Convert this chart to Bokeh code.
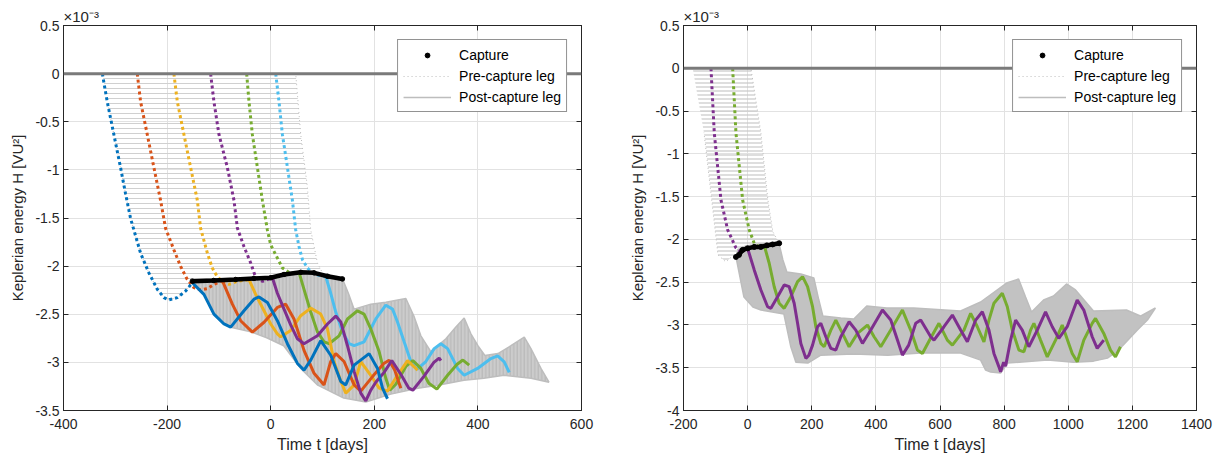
from bokeh.plotting import figure
from bokeh.layouts import row
from bokeh.models import Span, Legend, LegendItem, FixedTicker, LinearAxis, Range1d
from bokeh.embed import file_html
from bokeh.resources import INLINE

FONT = "Liberation Sans"
TXT = "#262626"
C_BLUE, C_ORANGE, C_YELLOW = "#0072BD", "#D95319", "#EDB120"
C_PURPLE, C_GREEN, C_CYAN = "#7E2F8E", "#77AC30", "#4DBEEE"

# ---------------- left panel (t in days, H in 1e-3 VU^2) ----------------
L_xticks = [-400, -200, 0, 200, 400, 600]
L_xlabels = ["-400", "-200", "0", "200", "400", "600"]
L_yticks = [-3.5, -3.0, -2.5, -2.0, -1.5, -1.0, -0.5, 0.0, 0.5]
L_ylabels = ["-3.5", "-3", "-2.5", "-2", "-1.5", "-1", "-0.5", "0", "0.5"]

blue_pre_t = [-325, -315.6, -302.8, -289.9, -280.2, -270.5, -264.1, -251.2, -235.2, -218.9, -206.2, -196.5, -180.3, -164.3, -151.3]
blue_pre_H = [0, -0.291, -0.632, -0.975, -1.248, -1.505, -1.625, -1.865, -2.070, -2.241, -2.327, -2.351, -2.327, -2.259, -2.173]
blue_post_t = [-151.3, -128.9, -109.6, -90.2, -77.3, -51.6, -32.3, -22.6, -6.4, 12.9, 32.3, 51.6, 64.3, 77.3, 96.6, 115.9, 135.3, 144.9, 161, 190, 206.2, 215.9, 225.5]
blue_post_H = [-2.173, -2.293, -2.498, -2.601, -2.634, -2.464, -2.344, -2.320, -2.378, -2.567, -2.806, -3.011, -3.080, -2.977, -2.775, -2.926, -3.199, -3.234, -3.029, -2.909, -3.063, -3.268, -3.378]

orange_pre_t = [-257.6, -251.2, -238.3, -225.5, -212.6, -202.9, -186.9, -173.9, -161, -148.2, -135.3, -122.3, -109.6, -93.3]
orange_pre_H = [0, -0.291, -0.632, -0.975, -1.317, -1.608, -1.831, -2.002, -2.139, -2.224, -2.248, -2.234, -2.190, -2.150]
orange_post_t = [-93.3, -74, -58, -35.4, -12.9, 12.9, 29, 45, 64.3, 83.7, 103, 115.9, 125.6, 141.6, 161, 173.9, 197, 218.3, 228.6, 239.6, 251.2]
orange_post_H = [-2.150, -2.395, -2.567, -2.686, -2.583, -2.429, -2.395, -2.549, -2.875, -3.114, -3.234, -2.991, -2.909, -2.991, -3.234, -3.299, -3.145, -3.011, -2.977, -3.083, -3.268]

yellow_pre_t = [-186.9, -180.3, -167.5, -154.6, -141.6, -135.3, -122.3, -112.7, -104.4, -92.8, -80.6, -64.4, -41.9]
yellow_pre_H = [0, -0.291, -0.632, -0.975, -1.317, -1.608, -1.864, -2.019, -2.098, -2.169, -2.190, -2.159, -2.140]
yellow_post_t = [-41.9, -29, -12.9, 0, 12.9, 19.3, 38.6, 58, 77.3, 96.6, 109.6, 122.3, 135.3, 144.9, 161, 173.9, 193.2, 209.3, 225.5, 244.8, 264.2, 280.2, 283.5]
yellow_post_H = [-2.140, -2.293, -2.464, -2.601, -2.703, -2.734, -2.669, -2.515, -2.436, -2.498, -2.652, -2.991, -3.196, -3.319, -3.237, -2.991, -3.134, -3.268, -3.299, -3.134, -2.981, -3.063, -3.083]

purple_pre_t = [-116, -109.6, -99.9, -83.7, -70.9, -64.3, -51.6, -38.6, -29, -15.5, 3.3]
purple_pre_H = [0, -0.291, -0.632, -0.975, -1.317, -1.605, -1.797, -1.967, -2.118, -2.159, -2.121]
purple_post_t = [3.3, 12.9, 25.7, 38.6, 51.6, 64.3, 90.2, 109.6, 125.6, 135.3, 148.2, 161, 173.9, 183.6, 193.2, 202.9, 218.9, 233.8, 251.2, 266.7, 274.4, 295.7, 315, 325.2, 328.5]
purple_post_H = [-2.121, -2.282, -2.447, -2.611, -2.755, -2.806, -2.724, -2.601, -2.519, -2.580, -2.827, -3.093, -3.319, -3.401, -3.289, -3.207, -3.104, -2.981, -3.124, -3.268, -3.289, -3.145, -3.001, -2.955, -2.981]

green_pre_t = [-46.4, -41.9, -35.4, -25.7, -16, -6.4, 0, 9.7, 22.6, 38.6, 54.7]
green_pre_H = [0, -0.291, -0.632, -0.975, -1.317, -1.625, -1.779, -1.882, -2.019, -2.077, -2.065]
green_post_t = [54.7, 64.3, 77.3, 90.2, 103, 112.7, 132, 148.2, 167.5, 180.3, 193.2, 209.3, 222.2, 230, 241.6, 260.9, 274.4, 289.9, 305.3, 320.8, 341.5, 359.4, 371, 383.2]
green_post_H = [-2.065, -2.241, -2.477, -2.683, -2.786, -2.806, -2.724, -2.549, -2.464, -2.498, -2.652, -2.888, -3.165, -3.289, -3.227, -3.042, -2.981, -3.063, -3.217, -3.278, -3.134, -3.022, -2.976, -3.029]

cyan_pre_t = [9.7, 16, 22.6, 32.3, 41.9, 48.3, 54.7, 61.3, 70.9, 80.6, 96.6, 106.3]
cyan_pre_H = [0, -0.291, -0.632, -0.975, -1.317, -1.625, -1.797, -1.933, -2.019, -2.070, -2.105, -2.108]
cyan_post_t = [106.3, 115.9, 125.6, 138.5, 151.3, 161, 180.3, 202.9, 222.2, 235.2, 244.8, 257.6, 270.5, 282.1, 299.5, 315.6, 328.5, 341.5, 360.8, 373.5, 399.4, 425.1, 438.1, 450.8, 460.5]
cyan_post_H = [-2.108, -2.282, -2.477, -2.683, -2.806, -2.827, -2.786, -2.549, -2.406, -2.447, -2.580, -2.786, -2.991, -3.073, -2.991, -2.857, -2.806, -2.857, -3.063, -3.134, -3.063, -2.960, -2.932, -2.994, -3.104]

L_cap_t = [-151.3, -110.1, -67.6, -32.3, 0, 25.7, 58, 83.7, 109.6, 138.5]
L_cap_H = [-2.156, -2.149, -2.139, -2.128, -2.121, -2.087, -2.064, -2.070, -2.105, -2.133]

# outline of the band of grey post-capture legs
L_post_band_t = [-148.2, -128.9, -109.6, -90.2, -77.3, -38.6, -7.7, 25.1, 58, 90.8, 141.1, 183.6, 231.9, 284.1, 322.7, 373, 411.6, 450.3, 502.4, 537.2,
                 521.7, 502.4, 489.5, 463.8, 438.7, 413.5, 400, 386.5, 373.5, 357.5, 338.2, 309.2, 289.9, 276.4, 260.9, 222.2, 193.2, 161, 150.7, 139.1,
                 109.6, 83.7, 58, 25.7, 0, -32.3, -67.6, -110.1]
L_post_band_H = [-2.159, -2.293, -2.498, -2.601, -2.634, -2.683, -2.744, -2.827, -3.063, -3.237, -3.371, -3.412, -3.330, -3.268, -3.237, -3.186, -3.165, -3.134, -3.165, -3.206,
                 -3.063, -2.857, -2.737, -2.827, -2.909, -2.929, -2.827, -2.703, -2.539, -2.632, -2.755, -2.888, -2.724, -2.518, -2.337, -2.375, -2.395, -2.447, -2.293, -2.139,
                 -2.105, -2.070, -2.064, -2.087, -2.121, -2.128, -2.139, -2.149]
# outline of the band of grey pre-capture legs
L_pre_band_t = [-325, 48.3, 58, 70.9, 77.3, 90.2, 99.9, 109.6, 83.7, 58, 25.7, 0, -15, -40, -80, -110, -135, -151.3, -164.3, -180.3, -196.5, -206.2, -218.9, -235.2, -251.2, -264.1, -270.5, -280.2, -289.9, -302.8, -315.6]
L_pre_band_H = [0, 0, -0.632, -1.18, -1.625, -1.967, -2.070, -2.105, -2.070, -2.064, -2.087, -2.121, -2.159, -2.165, -2.190, -2.20, -2.248, -2.173, -2.259, -2.327, -2.351, -2.327, -2.241, -2.070, -1.865, -1.625, -1.505, -1.248, -0.975, -0.632, -0.291]

# ---------------- right panel ----------------
R_xticks = [-200, 0, 200, 400, 600, 800, 1000, 1200, 1400]
R_xlabels = ["-200", "0", "200", "400", "600", "800", "1000", "1200", "1400"]
R_yticks = [-4.0, -3.5, -3.0, -2.5, -2.0, -1.5, -1.0, -0.5, 0.0, 0.5]
R_ylabels = ["-4", "-3.5", "-3", "-2.5", "-2", "-1.5", "-1", "-0.5", "0", "0.5"]

rpurple_pre_t = [-114.3, -104, -83.2, -62.3, -52, -36.4, -20.9, 0]
rpurple_pre_H = [0, -0.756, -1.538, -1.889, -1.971, -2.100, -2.146, -2.105]
rpurple_post_t = [0, 20.6, 41.4, 62.3, 72.6, 93.5, 114, 129.6, 145.2, 155.8, 166, 181.6, 191, 202.5, 218.1, 228.3, 243.9, 259.5, 275.1, 290.6, 316.5, 337.4, 358.2, 384.1, 420.5, 446.4, 467.3, 482.8, 502.4, 524.3, 539.8, 571, 581.3, 612.4, 638.6, 664.4, 685.3, 711.2, 732, 752.6, 768.2, 783.8, 789, 798.4, 804.6, 820.2, 835.8, 856.6, 877.2, 903.4, 929.2, 950.1, 970.6, 996.8, 1027.9, 1048.5, 1074.7, 1090.3, 1110.8]
rpurple_post_H = [-2.105, -2.357, -2.592, -2.787, -2.806, -2.670, -2.533, -2.553, -2.747, -2.981, -3.216, -3.391, -3.353, -3.236, -3.021, -2.981, -3.138, -3.274, -3.294, -3.138, -2.963, -3.060, -3.216, -3.060, -2.826, -2.943, -3.177, -3.353, -3.236, -2.981, -2.943, -3.138, -3.177, -3.021, -2.884, -3.060, -3.197, -2.943, -2.846, -3.060, -3.333, -3.490, -3.548, -3.435, -3.481, -3.177, -2.943, -3.060, -3.255, -3.060, -2.846, -3.021, -3.157, -3.021, -2.709, -2.826, -3.138, -3.274, -3.177]

rgreen_pre_t = [-46.7, -36.4, -15.6, 5, 20.6, 35.2, 51.7]
rgreen_pre_H = [0, -0.756, -1.538, -1.889, -2.045, -2.088, -2.070]
rgreen_post_t = [51.7, 67.3, 82.9, 98.4, 114, 134.9, 155.8, 171.3, 186.9, 202.5, 212.8, 228.3, 238.6, 259.5, 275.1, 295.9, 316.5, 342.7, 373.8, 394.4, 415.2, 446.4, 482.8, 508.7, 529.6, 545.1, 571, 596.8, 623, 638.6, 674.7, 695.6, 716.4, 737, 752.6, 768.2, 794.3, 809.9, 825.5, 846.1, 861.6, 882.5, 892.8, 913.6, 934.5, 960.4, 981.2, 1012.4, 1028, 1048.5, 1074.7, 1085, 1110.8, 1131.7, 1147.2, 1162.8]
rgreen_post_H = [-2.070, -2.279, -2.553, -2.747, -2.806, -2.670, -2.494, -2.436, -2.553, -2.787, -3.021, -3.216, -3.255, -3.060, -2.943, -3.099, -3.255, -3.099, -3.001, -3.138, -3.255, -3.060, -2.826, -3.060, -3.294, -3.333, -3.153, -2.981, -3.177, -3.236, -3.060, -2.864, -3.021, -3.197, -2.943, -2.747, -2.630, -2.787, -3.060, -3.294, -3.314, -3.060, -2.981, -3.177, -3.373, -3.177, -3.001, -3.333, -3.431, -3.177, -2.981, -2.923, -3.099, -3.294, -3.373, -3.255]

R_cap_t = [-36.4, -27.1, -15.6, 0, 20.6, 41.4, 60.1, 77.9, 98.4]
R_cap_H = [-2.205, -2.182, -2.123, -2.105, -2.088, -2.088, -2.070, -2.059, -2.045]

R_post_band_t = [-33.3, -5.3, 41.4, 97.5, 110, 122.4, 166, 206.5, 222.1, 234.6, 290.6, 331.1, 371.6, 433.9, 518, 664.4, 726.7, 807.7, 845.1, 866.9, 885.6, 923, 954.1, 994.6, 1022.7, 1078.7, 1181.5, 1225.1, 1271.8,
                 1246.9, 1215.7, 1153.4, 1122.3, 1078.7, 1016.4, 935.4, 810.8, 789, 757.9, 742.3, 726.7, 664.4, 539.8, 437, 331.1, 228.3, 187.8, 150.5, 134.9, 113.1, 41.4, 16.5, -11.5, -36.4]
R_post_band_H = [-2.123, -2.076, -2.053, -2.041, -2.240, -2.381, -2.404, -2.451, -2.709, -2.896, -2.919, -2.931, -2.779, -2.802, -2.802, -2.837, -2.732, -2.510, -2.463, -2.674, -2.849, -2.709, -2.662, -2.521, -2.591, -2.837, -2.826, -2.896, -2.802,
                 -2.943, -3.060, -3.306, -3.388, -3.423, -3.435, -3.411, -3.446, -3.563, -3.551, -3.528, -3.411, -3.329, -3.329, -3.353, -3.341, -3.353, -3.446, -3.435, -3.259, -2.873, -2.826, -2.791, -2.674, -2.205]
R_pre_band_t = [-171.3, 10.3, 41.4, 63.2, 78.8, 97.5, 41.4, -5.3, -33.3, -67.6, -92.5, -105, -136.1]
R_pre_band_H = [0, 0, -0.753, -1.538, -1.912, -2.041, -2.053, -2.076, -2.146, -2.264, -2.182, -1.772, -0.753]


def style_axis(ax, label_size):
    ax.major_tick_in = 5
    ax.major_tick_out = 0
    ax.minor_tick_line_color = None
    ax.axis_line_color = TXT
    ax.major_tick_line_color = TXT
    ax.major_label_text_font = FONT
    ax.major_label_text_font_size = "14px"
    ax.major_label_text_color = TXT
    ax.axis_label_text_font = FONT
    ax.axis_label_text_font_size = label_size
    ax.axis_label_text_font_style = "normal"
    ax.axis_label_text_color = TXT


def make_fig(xr, yr, xticks, xlabels, yticks, ylabels, width, bl, br, bt, bb):
    p = figure(width=width, height=464, x_range=Range1d(*xr), y_range=Range1d(*yr),
               output_backend="svg", toolbar_location=None,
               min_border_left=bl, min_border_right=br, min_border_top=bt, min_border_bottom=bb)
    p.background_fill_color = "white"
    p.border_fill_color = "white"
    p.outline_line_color = TXT
    p.outline_line_width = 1
    p.xaxis.ticker = FixedTicker(ticks=xticks)
    p.yaxis.ticker = FixedTicker(ticks=yticks)
    p.xaxis.major_label_overrides = dict(zip(xticks, xlabels))
    p.yaxis.major_label_overrides = dict(zip(yticks, ylabels))
    p.xaxis.axis_label = "Time t [days]"
    p.yaxis.axis_label = "Keplerian energy H [VU²]"
    for ax in p.xaxis:
        style_axis(ax, "16px")
    for ax in p.yaxis:
        style_axis(ax, "15px")
    p.xaxis.major_label_standoff = 8
    p.yaxis.major_label_standoff = 4
    p.xaxis.axis_label_standoff = 4
    p.yaxis.axis_label_standoff = 6
    p.xgrid.ticker = FixedTicker(ticks=xticks)
    p.ygrid.ticker = FixedTicker(ticks=yticks)
    p.xgrid.grid_line_color = "#e2e2e2"
    p.ygrid.grid_line_color = "#e2e2e2"
    # tick marks on the top and right edges of the box (no labels)
    top = LinearAxis(ticker=FixedTicker(ticks=xticks), major_label_text_font_size="1px",
                     major_label_text_color=None, major_tick_in=5, major_tick_out=0,
                     minor_tick_line_color=None, axis_line_color=TXT,
                     major_tick_line_color=TXT, major_label_standoff=0)
    right = LinearAxis(ticker=FixedTicker(ticks=yticks), major_label_text_font_size="1px",
                       major_label_text_color=None, major_tick_in=5, major_tick_out=0,
                       minor_tick_line_color=None, axis_line_color=TXT,
                       major_tick_line_color=TXT, major_label_standoff=0)
    p.add_layout(top, "above")
    p.add_layout(right, "right")
    p.title.text = "×10⁻³"
    p.title.align = "left"
    p.title.text_font = FONT
    p.title.text_font_style = "normal"
    p.title.text_font_size = "15px"
    p.title.text_color = TXT
    p.title.standoff = 1
    return p


def add_legend(p, cap_r, pre_r, post_r):
    leg = Legend(items=[LegendItem(label="Capture", renderers=[cap_r]),
                        LegendItem(label="Pre-capture leg", renderers=[pre_r]),
                        LegendItem(label="Post-capture leg", renderers=[post_r])],
                 location="top_right", margin=14, border_line_color=TXT, border_line_width=1,
                 label_text_font=FONT, label_text_font_size="14px", label_text_color="black",
                 glyph_width=48, glyph_height=12, label_height=19, label_standoff=8,
                 spacing=2, padding=5, background_fill_alpha=1.0)
    p.add_layout(leg)


def draw_curve(p, pre_t, pre_H, post_t, post_H, color):
    p.line(pre_t, pre_H, line_color=color, line_width=3, line_dash="3 3")
    p.line(post_t, post_H, line_color=color, line_width=3)


# ---------------- left figure ----------------
p1 = make_fig((-400, 600), (-3.5, 0.5), L_xticks, L_xlabels, L_yticks, L_ylabels, 615, 63, 34, 24, 52)
p1.patch(L_pre_band_t, L_pre_band_H, fill_color="white", fill_alpha=0.0, line_color=None,
         hatch_pattern="-", hatch_color="#d0d0d0", hatch_scale=5, hatch_weight=1)
pre1 = p1.line(L_pre_band_t, L_pre_band_H, line_color="#bdbdbd", line_width=1, line_dash="1 3")
p1.patch(L_post_band_t, L_post_band_H, fill_color="#cccccc", line_color=None,
         hatch_pattern="|", hatch_color="#b4b4b4", hatch_scale=3.5, hatch_weight=1)
post1 = p1.line(L_post_band_t, L_post_band_H, line_color="#bdbdbd", line_width=1.5)
for pre_t, pre_H, post_t, post_H, col in [
        (cyan_pre_t, cyan_pre_H, cyan_post_t, cyan_post_H, C_CYAN),
        (green_pre_t, green_pre_H, green_post_t, green_post_H, C_GREEN),
        (yellow_pre_t, yellow_pre_H, yellow_post_t, yellow_post_H, C_YELLOW),
        (orange_pre_t, orange_pre_H, orange_post_t, orange_post_H, C_ORANGE),
        (purple_pre_t, purple_pre_H, purple_post_t, purple_post_H, C_PURPLE),
        (blue_pre_t, blue_pre_H, blue_post_t, blue_post_H, C_BLUE)]:
    draw_curve(p1, pre_t, pre_H, post_t, post_H, col)
p1.line(L_cap_t, L_cap_H, line_color="black", line_width=4.5)
cap1 = p1.scatter(L_cap_t, L_cap_H, marker="circle", size=4.5, fill_color="black", line_color="black")
p1.add_layout(Span(location=0, dimension="width", line_color="#7a7a7a", line_width=3))
add_legend(p1, cap1, pre1, post1)

# ---------------- right figure ----------------
p2 = make_fig((-200, 1400), (-4, 0.5), R_xticks, R_xlabels, R_yticks, R_ylabels, 611, 68, 30, 25, 54)
p2.patch(R_pre_band_t, R_pre_band_H, fill_color="white", fill_alpha=0.0, line_color=None,
         hatch_pattern="-", hatch_color="#c8c8c8", hatch_scale=4, hatch_weight=1.2)
pre2 = p2.line(R_pre_band_t, R_pre_band_H, line_color="#bdbdbd", line_width=1, line_dash="1 3")
p2.patch(R_post_band_t, R_post_band_H, fill_color="#c2c2c2", line_color=None)
post2 = p2.line(R_post_band_t, R_post_band_H, line_color="#bdbdbd", line_width=1.5)
draw_curve(p2, rgreen_pre_t, rgreen_pre_H, rgreen_post_t, rgreen_post_H, C_GREEN)
draw_curve(p2, rpurple_pre_t, rpurple_pre_H, rpurple_post_t, rpurple_post_H, C_PURPLE)
p2.line(R_cap_t[1:], R_cap_H[1:], line_color="black", line_width=4.5)
cap2 = p2.scatter(R_cap_t, R_cap_H, marker="circle", size=5, fill_color="black", line_color="black")
p2.add_layout(Span(location=0, dimension="width", line_color="#7a7a7a", line_width=3))
add_legend(p2, cap2, pre2, post2)

layout = row(p1, p2)
open("out.html", "w").write(file_html(layout, INLINE))
